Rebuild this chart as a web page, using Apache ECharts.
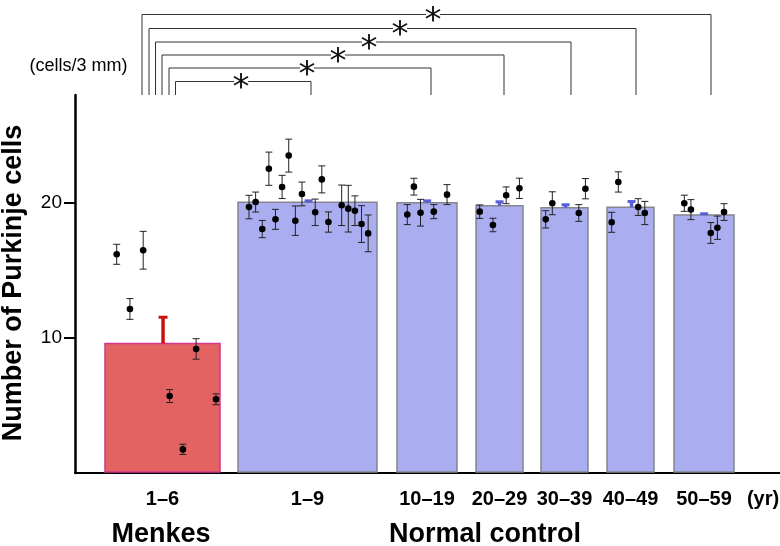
<!DOCTYPE html>
<html>
<head>
<meta charset="utf-8">
<script src="https://cdn.jsdelivr.net/npm/echarts@6/dist/echarts.min.js"></script>
<style>html,body{margin:0;padding:0;background:#fff;}#c{width:780px;height:546px;}</style>
</head>
<body>
<div id="c"></div>
<script>
// ---- data ----
const categories = ['1–6', '1–9', '10–19', '20–29', '30–39', '40–49', '50–59'];
const groupNames = ['Menkes', 'Normal control'];
const yTicks = [10, 20];
const means = [9.6, 20.05, 20.02, 19.8, 19.65, 19.68, 19.11];
const meanErr = [2.05, 0.22, 0.25, 0.4, 0.33, 0.54, 0.2];

const menkes16 = [16.2, 12.15, 16.5, 5.7, 1.75, 9.19, 5.46];
const menkes16Err = [0.74, 0.77, 1.4, 0.48, 0.38, 0.76, 0.4];
const ctrl1to9 = [19.7, 20.07, 18.07, 22.54, 18.79, 21.19, 23.51, 18.69, 20.67, 19.31, 21.75, 18.59, 19.83, 19.58, 19.43, 18.44, 17.75];
const ctrl1to9Err = [0.87, 0.74, 0.64, 1.23, 0.74, 0.86, 1.22, 1.09, 0.88, 0.98, 1.0, 0.75, 1.5, 1.73, 1.1, 1.36, 1.36];
const ctrl10s = [19.14, 21.21, 19.28, 19.36, 20.62];
const ctrl10sErr = [0.74, 0.62, 0.99, 0.52, 0.74];
const ctrl20s = [19.36, 18.37, 20.57, 21.09];
const ctrl20sErr = [0.5, 0.5, 0.62, 0.75];
const ctrl30s = [18.79, 19.98, 19.26, 21.06];
const ctrl30sErr = [0.64, 0.85, 0.62, 0.75];
const ctrl40s = [18.57, 21.56, 19.7, 19.26];
const ctrl40sErr = [0.74, 0.75, 0.62, 0.86];
const ctrl50s = [19.98, 19.51, 17.78, 18.17, 19.33];
const ctrl50sErr = [0.6, 0.74, 0.77, 0.86, 0.62];

const pointValues = [menkes16, ctrl1to9, ctrl10s, ctrl20s, ctrl30s, ctrl40s, ctrl50s];
const pointErrors = [menkes16Err, ctrl1to9Err, ctrl10sErr, ctrl20sErr, ctrl30sErr, ctrl40sErr, ctrl50sErr];

// ---- layout (x axis units) ----
const barSpans = [[30, 145], [163, 302], [322, 382], [401, 448], [466, 513], [532, 579], [599, 659]];
const slotStart = [41.7, 174, 332.3, 404.7, 470.7, 536.7, 609.3];
const slotStep = 6.62;
const pointSlots = [
  [0, 2, 4, 8, 10, 12, 15],
  [0, 1, 2, 3, 4, 5, 6, 7, 8, 10, 11, 12, 14, 15, 16, 17, 18],
  [0, 1, 2, 4, 6],
  [0, 2, 4, 6],
  [0, 1, 5, 6],
  [0, 1, 4, 5],
  [0, 1, 4, 5, 6]
];
const meanSlot = [7, 9, 3, 3, 3, 3, 3];

const barData = categories.map((c, i) => [(barSpans[i][0] + barSpans[i][1]) / 2, means[i], i]);
const meanData = categories.map((c, i) => [slotStart[i] + meanSlot[i] * slotStep, means[i], meanErr[i], i]);
const tickData = yTicks.map(v => [0, v]);
const pointData = [];
pointValues.forEach((vals, g) => {
  vals.forEach((v, k) => {
    pointData.push([slotStart[g] + pointSlots[g][k] * slotStep, v, pointErrors[g][k]]);
  });
});

const chart = echarts.init(document.getElementById('c'), null, {renderer: 'canvas'});
const FONT = '"Liberation Sans", Arial, sans-serif';

// significance brackets (pixel coords)
const brackets = [
  {l: 142, r: 711, y: 14.5, s: 433},
  {l: 149, r: 636, y: 28.5, s: 400},
  {l: 155.5, r: 571, y: 42, s: 369},
  {l: 162, r: 504, y: 55, s: 338},
  {l: 169, r: 431, y: 68, s: 307},
  {l: 175.5, r: 311, y: 81.5, s: 241}
];
const graphics = [];
brackets.forEach(b => {
  graphics.push({type: 'polyline', shape: {points: [[b.l, 95], [b.l, b.y], [b.r, b.y], [b.r, 95]]}, style: {stroke: '#333', lineWidth: 1, fill: null}, silent: true});
  graphics.push({type: 'rect', shape: {x: b.s - 7, y: b.y - 2, width: 14, height: 4}, style: {fill: '#fff'}, z: 10});
  graphics.push({type: 'text', x: b.s, y: b.y + 8, style: {text: '*', font: '34px "DejaVu Sans"', fill: '#111', align: 'center', verticalAlign: 'middle'}, z: 11});
});
graphics.push({type: 'text', x: 14, y: 283, rotation: Math.PI / 2, style: {text: 'Number of Purkinje cells', font: 'bold 27px ' + FONT, fill: '#000', align: 'center', verticalAlign: 'middle'}});
graphics.push({type: 'text', x: 78.5, y: 66, style: {text: '(cells/3 mm)', font: '18px ' + FONT, fill: '#000', align: 'center', verticalAlign: 'middle'}});
graphics.push({type: 'text', x: 161, y: 535, style: {text: groupNames[0], font: 'bold 27px ' + FONT, fill: '#000', align: 'center', verticalAlign: 'middle'}});
graphics.push({type: 'text', x: 485, y: 535, style: {text: groupNames[1], font: 'bold 27px ' + FONT, fill: '#000', align: 'center', verticalAlign: 'middle'}});
graphics.push({type: 'text', x: 763, y: 499, style: {text: '(yr)', font: 'bold 20px ' + FONT, fill: '#000', align: 'center', verticalAlign: 'middle'}});

chart.setOption({
  animation: false,
  backgroundColor: '#fff',
  grid: {left: 75, right: 0, top: 95, bottom: 73},
  xAxis: {
    type: 'value', min: 0, max: 705,
    axisLine: {show: true, lineStyle: {color: '#000', width: 2}},
    axisTick: {show: false}, axisLabel: {show: false}, splitLine: {show: false}
  },
  yAxis: {
    type: 'value', min: 0, max: 28, interval: 10,
    axisLine: {show: true, lineStyle: {color: '#000', width: 2.5}},
    axisTick: {show: false},
    axisLabel: {show: true, customValues: yTicks, margin: 13, fontSize: 19, color: '#000', fontFamily: FONT},
    splitLine: {show: false}
  },
  graphic: graphics,
  series: [
    {
      type: 'custom', data: tickData, encode: {x: 0, y: 1}, z: 5, clip: false,
      renderItem: function (params, api) {
        const p = api.coord([api.value(0), api.value(1)]);
        return {type: 'line', shape: {x1: p[0] - 11, y1: p[1], x2: p[0], y2: p[1]}, style: {stroke: '#000', lineWidth: 2}};
      }
    },
    {
      type: 'custom', data: barData, encode: {x: 0, y: 1}, z: 2, clip: false,
      renderItem: function (params, api) {
        const i = api.value(2);
        const span = barSpans[i];
        const a = api.coord([span[0], api.value(1)]);
        const b = api.coord([span[1], 0]);
        const menkes = i === 0;
        return {type: 'group', children: [
          {type: 'rect', shape: {x: a[0], y: a[1], width: b[0] - a[0], height: b[1] - a[1] - 1},
            style: {fill: menkes ? '#e36363' : '#aaaef0', stroke: menkes ? '#d2358a' : '#85858f', lineWidth: 1.5}},
          {type: 'text', x: (a[0] + b[0]) / 2, y: b[1] + 26,
            style: {text: categories[i], font: 'bold 20px ' + FONT, fill: '#000', align: 'center', verticalAlign: 'middle'}}
        ]};
      }
    },
    {
      type: 'custom', data: meanData, encode: {x: 0, y: 1}, z: 3, clip: false,
      renderItem: function (params, api) {
        const x = api.value(0), m = api.value(1), e = api.value(2), i = api.value(3);
        const base = api.coord([x, m]);
        const top = api.coord([x, m + e]);
        const menkes = i === 0;
        const col = menkes ? '#cc1111' : '#5a5ed8';
        const hw = menkes ? 4.5 : 4;
        return {type: 'group', children: [
          {type: 'line', shape: {x1: base[0], y1: base[1], x2: top[0], y2: top[1] + 1}, style: {stroke: col, lineWidth: 3.5}},
          {type: 'line', shape: {x1: top[0] - hw, y1: top[1] + 1.5, x2: top[0] + hw, y2: top[1] + 1.5}, style: {stroke: col, lineWidth: 3}}
        ]};
      }
    },
    {
      type: 'custom', data: pointData, encode: {x: 0, y: 1}, z: 4, clip: false,
      renderItem: function (params, api) {
        const x = api.value(0), v = api.value(1), e = api.value(2);
        const c = api.coord([x, v]);
        const hi = api.coord([x, v + e]);
        const lo = api.coord([x, v - e]);
        const hw = 3.5;
        const st = {stroke: '#222', lineWidth: 1};
        return {type: 'group', children: [
          {type: 'line', shape: {x1: c[0], y1: hi[1], x2: c[0], y2: lo[1]}, style: st},
          {type: 'line', shape: {x1: c[0] - hw, y1: hi[1], x2: c[0] + hw, y2: hi[1]}, style: st},
          {type: 'line', shape: {x1: c[0] - hw, y1: lo[1], x2: c[0] + hw, y2: lo[1]}, style: st},
          {type: 'circle', shape: {cx: c[0], cy: c[1], r: 3.3}, style: {fill: '#000'}}
        ]};
      }
    }
  ]
});
</script>
</body>
</html>
